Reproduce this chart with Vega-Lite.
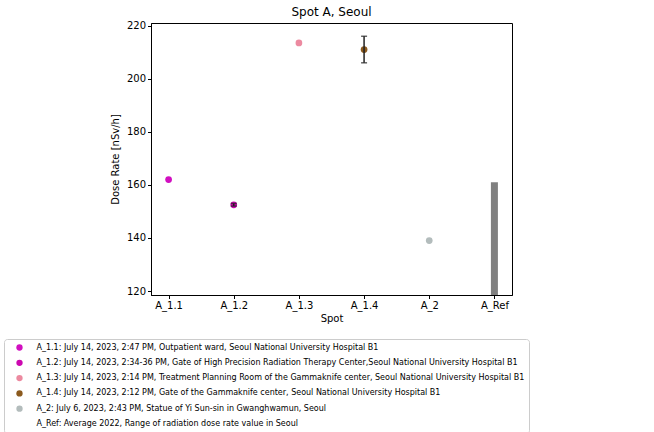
{
  "$schema": "https://vega.github.io/schema/vega-lite/v6.json",
  "width": 361,
  "height": 272,
  "autosize": {"type": "none"},
  "padding": {"left": 151, "top": 23, "right": 142, "bottom": 137},
  "background": "white",
  "config": {
    "font": "DejaVu Sans",
    "view": {"stroke": "black", "strokeWidth": 1},
    "axis": {"grid": false, "domainColor": "black", "tickColor": "black", "labelColor": "black", "titleColor": "black", "labelFontSize": 10, "titleFontSize": 10, "titleFontWeight": "normal", "tickSize": 3.5, "labelFont": "DejaVu Sans", "titleFont": "DejaVu Sans"}
  },
  "title": {"text": "Spot A, Seoul", "fontSize": 12, "fontWeight": "normal", "font": "DejaVu Sans", "color": "black", "offset": 2},
  "datasets": {
    "pts": [
      {"spot": "A_1.1", "value": 162, "label": "A_1.1: July 14, 2023, 2:47 PM, Outpatient ward, Seoul National University Hospital B1"},
      {"spot": "A_1.2", "value": 152.5, "label": "A_1.2: July 14, 2023, 2:34-36 PM, Gate of High Precision Radiation Therapy Center,Seoul National University Hospital B1"},
      {"spot": "A_1.3", "value": 213.5, "label": "A_1.3: July 14, 2023, 2:14 PM, Treatment Planning Room of the Gammaknife center, Seoul National University Hospital B1"},
      {"spot": "A_1.4", "value": 211, "label": "A_1.4: July 14, 2023, 2:12 PM, Gate of the Gammaknife center, Seoul National University Hospital B1"},
      {"spot": "A_2", "value": 139, "label": "A_2: July 6, 2023, 2:43 PM, Statue of Yi Sun-sin in Gwanghwamun, Seoul"}
    ],
    "err": [
      {"spot": "A_1.2", "lo": 152, "hi": 153},
      {"spot": "A_1.4", "lo": 206, "hi": 216}
    ],
    "ref": [
      {"spot": "A_Ref", "lo": 100, "hi": 161}
    ]
  },
  "layer": [
    {
      "data": {"name": "ref"},
      "mark": {"type": "bar", "color": "#808080", "width": 7, "clip": true},
      "encoding": {
        "x": {"field": "spot", "type": "ordinal"},
        "y": {"field": "lo", "type": "quantitative"},
        "y2": {"field": "hi"}
      }
    },
    {
      "data": {"name": "pts"},
      "mark": {"type": "circle", "size": 45, "opacity": 1},
      "encoding": {
        "x": {"field": "spot", "type": "ordinal"},
        "y": {"field": "value", "type": "quantitative"},
        "color": {
          "field": "label", "type": "nominal",
          "scale": {
            "domain": [
              "A_1.1: July 14, 2023, 2:47 PM, Outpatient ward, Seoul National University Hospital B1",
              "A_1.2: July 14, 2023, 2:34-36 PM, Gate of High Precision Radiation Therapy Center,Seoul National University Hospital B1",
              "A_1.3: July 14, 2023, 2:14 PM, Treatment Planning Room of the Gammaknife center, Seoul National University Hospital B1",
              "A_1.4: July 14, 2023, 2:12 PM, Gate of the Gammaknife center, Seoul National University Hospital B1",
              "A_2: July 6, 2023, 2:43 PM, Statue of Yi Sun-sin in Gwanghwamun, Seoul",
              "A_Ref: Average 2022, Range of radiation dose rate value in Seoul"
            ],
            "range": ["#d10fc0", "#cc08b0", "#ec8aa0", "#8b5a1e", "#b3bcbc", "transparent"]
          },
          "legend": {
            "title": null, "orient": "none", "legendX": -147, "legendY": 316,
            "labelFont": "DejaVu Sans", "labelFontSize": 8, "labelColor": "black", "labelLimit": 0,
            "symbolType": "circle", "symbolSize": 40, "rowPadding": 7.3,
            "strokeColor": "#cccccc", "padding": 4.5, "cornerRadius": 3, "fillColor": "white",
            "symbolStrokeWidth": 0, "symbolOffset": 7, "labelOffset": 13
          }
        }
      }
    },
    {
      "data": {"name": "err"},
      "mark": {"type": "rule", "color": "#222", "strokeWidth": 1.5},
      "encoding": {
        "x": {"field": "spot", "type": "ordinal"},
        "y": {"field": "lo", "type": "quantitative"},
        "y2": {"field": "hi"}
      }
    },
    {
      "data": {"name": "err"},
      "mark": {"type": "tick", "color": "#222", "orient": "horizontal", "size": 6, "thickness": 1.5},
      "encoding": {
        "x": {"field": "spot", "type": "ordinal"},
        "y": {"field": "lo", "type": "quantitative"}
      }
    },
    {
      "data": {"name": "err"},
      "mark": {"type": "tick", "color": "#222", "orient": "horizontal", "size": 6, "thickness": 1.5},
      "encoding": {
        "x": {"field": "spot", "type": "ordinal"},
        "y": {"field": "hi", "type": "quantitative"}
      }
    }
  ],
  "resolve": {"scale": {"x": "shared", "y": "shared"}},
  "encoding": {
    "x": {"field": "spot", "type": "ordinal",
      "scale": {"type": "point", "domain": ["A_1.1", "A_1.2", "A_1.3", "A_1.4", "A_2", "A_Ref"], "padding": 0.27},
      "axis": {"title": "Spot", "labelAngle": 0, "titleFontSize": 10, "titlePadding": 3}},
    "y": {"type": "quantitative",
      "scale": {"domain": [118.5, 221], "nice": false, "zero": false},
      "axis": {"title": "Dose Rate [nSv/h]", "values": [120, 140, 160, 180, 200, 220], "titlePadding": 6}}
  }
}
